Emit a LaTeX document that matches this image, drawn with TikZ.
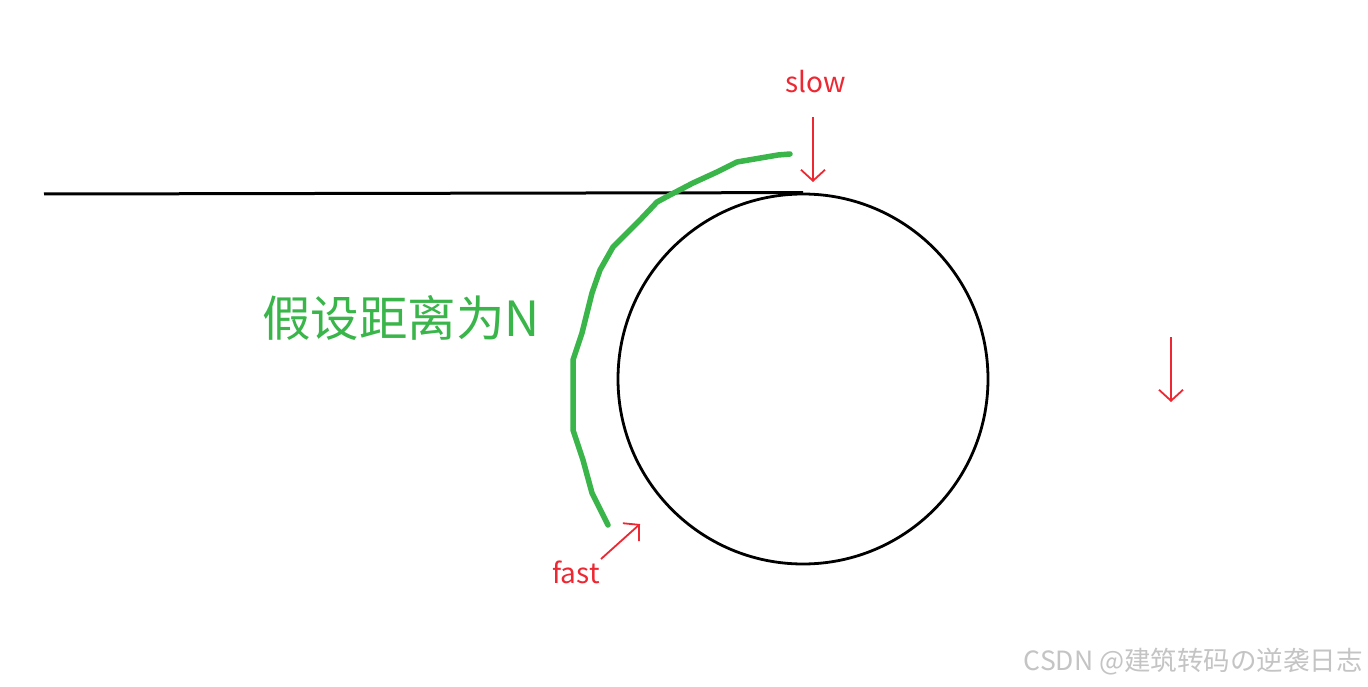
\documentclass[tikz,border=0pt]{standalone}
\usepackage{fontspec}
\setmainfont{Noto Sans CJK SC}
\newfontfamily\cjk{Noto Sans CJK SC}
\usetikzlibrary{arrows.meta}
\definecolor{penred}{RGB}{237,40,50}
\definecolor{pengreen}{RGB}{57,181,74}
\definecolor{wmgray}{RGB}{196,196,196}
\tikzset{
  redarrow/.style={draw=penred, line width=1.8pt, -{Straight Barb[length=11pt,width=24pt,line width=1.8pt]}},
  redlabel/.style={text=penred, font=\cjk\fontsize{28}{28}\selectfont, inner sep=0pt},
  greenpath/.style={draw=pengreen, line width=5.5pt, line cap=round, line join=round},
}
\begin{document}
\begin{tikzpicture}[x=1pt,y=-1pt]
\useasboundingbox (0,0) rectangle (1368,687);
\fill[white] (0,0) rectangle (1368,687);
% circle and tangent line
\node[circle, draw=black, line width=2.8pt, minimum size=370pt, inner sep=0pt] (circ) at (803,379) {};
\coordinate (lineL) at (44,194);
\draw[black, line width=3pt] (lineL) -- (circ.north);
% green distance stroke
\draw[greenpath] (790,154) -- (778,155) -- (737,162) -- (717,172) -- (693,183) -- (670,195) -- (657,202) -- (640,220) -- (613,247) -- (600,270) -- (592,293) -- (582,333) -- (573,360) -- (573,430) -- (583,460) -- (592,493) -- (608,525);
% labels
\node[redlabel] (slow) at (816,82) {slow};
\node[redlabel] (fast) at (576,572) {fast};
\node[text=pengreen, font=\cjk\fontsize{48.5}{48.5}\selectfont, inner sep=0pt] (dist) at (401,318) {假设距离为N};
% arrows
\coordinate (slowA) at (813,117);
\coordinate (slowB) at (813,182);
\draw[redarrow] (slowA) -- (slowB);
\coordinate (fastA) at (601,559);
\coordinate (fastB) at (640,524);
\draw[redarrow] (fastA) -- (fastB);
\coordinate (rA) at (1171,337);
\coordinate (rB) at (1171,402);
\draw[redarrow] (rA) -- (rB);
% watermark
\node[text=wmgray, font=\cjk\fontsize{26.5}{26.5}\selectfont, inner sep=0pt, anchor=east] (wm) at (1363,662) {CSDN @建筑转码の逆袭日志};
\end{tikzpicture}
\end{document}
